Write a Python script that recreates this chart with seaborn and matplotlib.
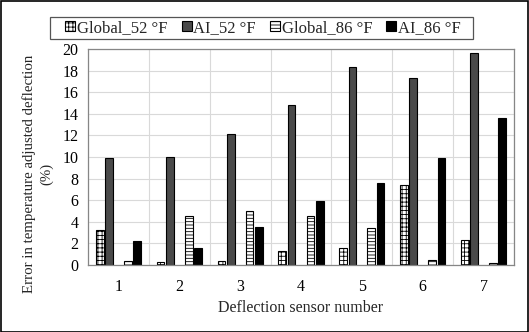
import matplotlib
matplotlib.use("Agg")
import matplotlib.pyplot as plt
import matplotlib.colors as mcolors
import seaborn as sns
import pandas as pd
import numpy as np
from matplotlib.patches import Patch, Rectangle
from matplotlib.ticker import FixedLocator

sensors = ["1", "2", "3", "4", "5", "6", "7"]
series = ["Global_52 °F", "AI_52 °F", "Global_86 °F", "AI_86 °F"]
global_52 = [3.2, 0.3, 0.35, 1.3, 1.6, 7.4, 2.3]
ai_52 = [9.9, 10.0, 12.1, 14.8, 18.3, 17.3, 19.6]
global_86 = [0.35, 4.5, 5.0, 4.5, 3.4, 0.5, 0.2]
ai_86 = [2.2, 1.6, 3.5, 5.9, 7.6, 9.9, 13.6]
y_ticks = [0, 2, 4, 6, 8, 10, 12, 14, 16, 18, 20]

spacer = " "
hue_order = [series[0], series[1], spacer, series[2], series[3]]

rows = []
for name, vals in zip(series, [global_52, ai_52, global_86, ai_86]):
    for s, v in zip(sensors, vals):
        rows.append({"sensor": s, "series": name, "value": v})
df = pd.DataFrame(rows)

sns.set_theme(style="white")
plt.rcParams["font.family"] = ["Liberation Serif", "DejaVu Serif"]
plt.rcParams["hatch.linewidth"] = 0.6
plt.rcParams["hatch.color"] = "black"

fs = 11.5

fig = plt.figure(figsize=(5.29, 3.32), dpi=100)
ax = fig.add_axes([88 / 529, 1 - 265 / 332, (514 - 88) / 529, (265 - 49) / 332])

tmp_pal = {series[0]: "#ff0000", series[1]: "#00ff00", spacer: "#0000ff",
           series[2]: "#ffff00", series[3]: "#ff00ff"}
sns.barplot(data=df, x="sensor", y="value", hue="series", hue_order=hue_order,
            order=sensors, palette=tmp_pal, saturation=1, width=0.77, gap=0.18,
            ax=ax, legend=False, errorbar=None)

style = {
    "#ff0000": dict(fc="white", hatch="++++"),
    "#00ff00": dict(fc="#4a4a4a", hatch=None),
    "#ffff00": dict(fc="white", hatch="-----"),
    "#ff00ff": dict(fc="black", hatch=None),
}
for p in ax.patches:
    key = mcolors.to_hex(p.get_facecolor())
    if key in style:
        st = style[key]
        p.set_facecolor(st["fc"])
        p.set_edgecolor("black")
        p.set_linewidth(0.8)
        if st["hatch"]:
            p.set_hatch(st["hatch"])

ax.set_ylim(0, 20)
ax.set_xlim(-0.5, 6.5)
ax.yaxis.set_major_locator(FixedLocator(y_ticks))
ax.xaxis.set_minor_locator(FixedLocator(np.arange(-0.5, 7.0, 1.0)))
ax.grid(True, axis="y", which="major", color="#d9d9d9", linewidth=0.8)
ax.grid(True, axis="x", which="minor", color="#d9d9d9", linewidth=0.8)
ax.set_axisbelow(True)
for sp in ax.spines.values():
    sp.set_color("#868686")
    sp.set_linewidth(0.9)
ax.tick_params(axis="y", which="both", length=0, labelsize=fs, colors="black", pad=7)
ax.tick_params(axis="x", which="both", length=0, labelsize=fs, colors="black", pad=10)
ax.set_xlabel("Deflection sensor number", fontsize=fs, labelpad=4)
ax.set_ylabel("Error in temperature adjusted deflection\n(%)", fontsize=10.7,
              linespacing=1.4)
ax.yaxis.set_label_coords(-0.081, (265 - 174) / 216)

handles = [
    Patch(facecolor="white", edgecolor="black", hatch="++++", linewidth=0.8),
    Patch(facecolor="#4a4a4a", edgecolor="black", linewidth=0.8),
    Patch(facecolor="white", edgecolor="black", hatch="-----", linewidth=0.8),
    Patch(facecolor="black", edgecolor="black", linewidth=0.8),
]
leg = fig.legend(handles, series, loc="center", bbox_to_anchor=(263 / 529, 1 - 28 / 332),
                 ncol=4, frameon=False, fontsize=12,
                 handlelength=0.6, handleheight=0.6, handletextpad=0.1,
                 columnspacing=0.85, borderpad=0.2, borderaxespad=0)

fig.patches.append(Rectangle((50 / 529, 1 - 39 / 332), (473 - 50) / 529, 22 / 332,
                             transform=fig.transFigure, fill=False,
                             edgecolor="#555555", linewidth=0.9))
fig.patches.append(Rectangle((0.001, 0.001), 0.997, 0.997, transform=fig.transFigure,
                             fill=False, edgecolor="black", linewidth=1.2))

fig.savefig("out.png", dpi=100)
